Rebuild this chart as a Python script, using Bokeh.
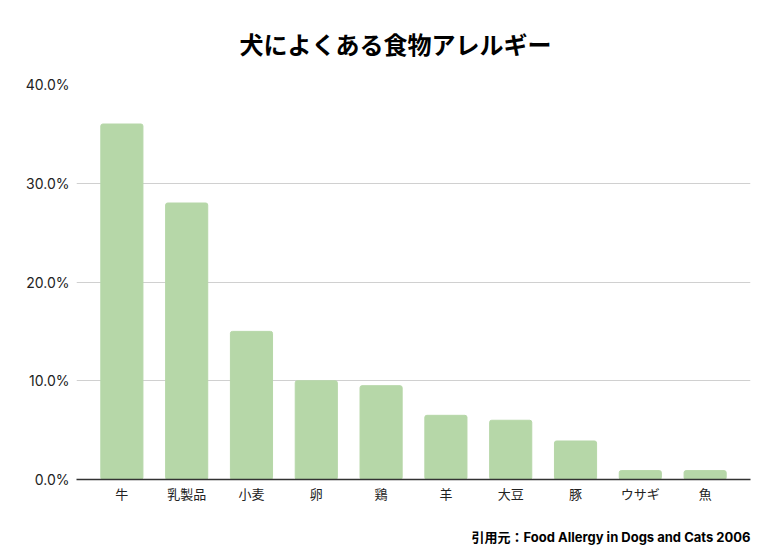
from bokeh.plotting import figure
from bokeh.models import ColumnDataSource, Title, FixedTicker, Range1d, CustomJSTickFormatter
from bokeh.embed import file_html
from bokeh.resources import INLINE

categories = ["牛", "乳製品", "小麦", "卵", "鶏", "羊", "大豆", "豚", "ウサギ", "魚"]
values = [36.0, 28.0, 15.0, 10.0, 9.5, 6.5, 6.0, 3.9, 0.9, 0.9]
y_ticks = [0, 10, 20, 30, 40]
title_text = "犬によくある食物アレルギー"
source_text = "引用元：Food Allergy in Dogs and Cats 2006"

FONT = "Inter, 'Noto Sans CJK JP', sans-serif"
JFONT = "'Noto Sans CJK JP', sans-serif"

src = ColumnDataSource(dict(cat=categories, val=values))

p = figure(width=766, height=558, x_range=categories, y_range=Range1d(0, 40),
           output_backend="svg", toolbar_location=None,
           min_border_left=76, min_border_right=16, min_border_top=84, min_border_bottom=0)
p.x_range.range_padding = 0.2
p.x_range.range_padding_units = "absolute"
p.outline_line_color = None

p.vbar(x="cat", top="val", width=0.65, source=src, color="#b6d7a8", border_radius=2)

t = Title(text=title_text, align="left", vertical_align="middle", text_font=JFONT,
          text_font_size="24px", text_font_style="bold", text_color="#000000",
          offset=163, standoff=45)
p.add_layout(t, "above")
p.title.visible = False

spacer = Title(text=" ", text_font_size="4px", standoff=0)
p.add_layout(spacer, "below")
foot = Title(text=source_text, align="right", text_font=FONT, text_font_size="13px",
             text_font_style="bold", text_color="#000000", standoff=28)
p.add_layout(foot, "below")

p.yaxis.ticker = FixedTicker(ticks=y_ticks)
p.yaxis.formatter = CustomJSTickFormatter(code="return tick.toFixed(1) + '%';")
p.yaxis.axis_line_color = None
p.yaxis.major_tick_line_color = None
p.yaxis.major_tick_out = 0
p.yaxis.minor_tick_line_color = None
p.yaxis.major_label_text_font = FONT
p.yaxis.major_label_text_font_size = "14px"
p.yaxis.major_label_text_color = "#222222"
p.yaxis.major_label_standoff = 7

p.xaxis.axis_line_color = "#333333"
p.xaxis.axis_line_width = 1.5
p.xaxis.major_tick_line_color = None
p.xaxis.major_tick_out = 0
p.xaxis.minor_tick_line_color = None
p.xaxis.major_label_text_font = JFONT
p.xaxis.major_label_text_font_size = "13px"
p.xaxis.major_label_text_color = "#222222"
p.xaxis.major_label_standoff = 4

p.xgrid.grid_line_color = None
p.ygrid.grid_line_color = "#d0d0d0"
p.ygrid.grid_line_width = 1

open("out.html", "w").write(file_html(p, INLINE))
